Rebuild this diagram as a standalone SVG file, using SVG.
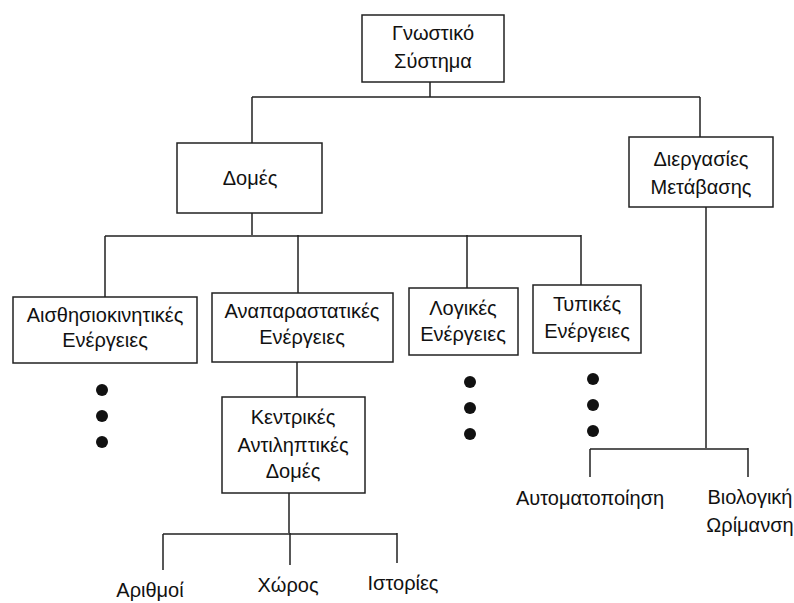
<svg xmlns="http://www.w3.org/2000/svg" width="794" height="603" viewBox="0 0 794 603">
<style>
.box{fill:#fff;stroke:#222;stroke-width:1.5}
.ln{fill:none;stroke:#222;stroke-width:1.5}
text{font-family:"Liberation Sans","DejaVu Sans",sans-serif;font-size:20px;fill:#111;text-anchor:middle}
.dot{fill:#111}
</style>
<rect width="794" height="603" fill="#fff"/>
<g id="connectors">
<path class="ln" d="M430 82V97M252 97H700M252 97V143M700 97V137"/>
<path class="ln" d="M252 213V235M105 236H581M105 236V297M298 235V293M467 235V288M581 235V285"/>
<path class="ln" d="M297 362V397M289 493V533M163 534H397M163 534V570M290 533V565M397 533V563"/>
<path class="ln" d="M706 207V448M590 449H748M590 449V477M748 448V477"/>
</g>
<g id="n-gnostiko"><rect class="box" x="362" y="15" width="142" height="67"/><text x="433" y="40">Γνωστικό</text><text x="433" y="68">Σύστημα</text></g>
<g id="n-domes"><rect class="box" x="177" y="143" width="145" height="70"/><text x="250" y="185">Δομές</text></g>
<g id="n-diergasies"><rect class="box" x="629" y="137" width="144" height="70"/><text x="701" y="166">Διεργασίες</text><text x="701" y="194">Μετάβασης</text></g>
<g id="n-aisth"><rect class="box" x="13" y="297" width="184" height="66"/><text x="105" y="322">Αισθησιοκινητικές</text><text x="105" y="347">Ενέργειες</text></g>
<g id="n-anapar"><rect class="box" x="212" y="293" width="181" height="69"/><text x="302" y="318">Αναπαραστατικές</text><text x="302" y="344">Ενέργειες</text></g>
<g id="n-logikes"><rect class="box" x="409" y="288" width="109" height="67"/><text x="463" y="315">Λογικές</text><text x="463" y="341">Ενέργειες</text></g>
<g id="n-typikes"><rect class="box" x="533" y="285" width="108" height="68"/><text x="587" y="311">Τυπικές</text><text x="587" y="338">Ενέργειες</text></g>
<g id="n-kentrikes"><rect class="box" x="222" y="397" width="143" height="96"/><text x="293" y="424">Κεντρικές</text><text x="293" y="452">Αντιληπτικές</text><text x="293" y="478">Δομές</text></g>
<g id="dots-aisth"><circle class="dot" cx="102" cy="390" r="6"/><circle class="dot" cx="102" cy="416" r="6"/><circle class="dot" cx="102" cy="442" r="6"/></g>
<g id="dots-logikes"><circle class="dot" cx="470" cy="382" r="6"/><circle class="dot" cx="470" cy="408" r="6"/><circle class="dot" cx="470" cy="434" r="6"/></g>
<g id="dots-typikes"><circle class="dot" cx="593" cy="379" r="6"/><circle class="dot" cx="593" cy="405" r="6"/><circle class="dot" cx="593" cy="431" r="6"/></g>
<g id="n-arithmoi"><text x="150" y="597">Αριθμοί</text></g>
<g id="n-xoros"><text x="288" y="592">Χώρος</text></g>
<g id="n-istories"><text x="403" y="590">Ιστορίες</text></g>
<g id="n-automat"><text x="590" y="505">Αυτοματοποίηση</text></g>
<g id="n-biologiki"><text x="750" y="504">Βιολογική</text><text x="750" y="532">Ωρίμανση</text></g>
</svg>
